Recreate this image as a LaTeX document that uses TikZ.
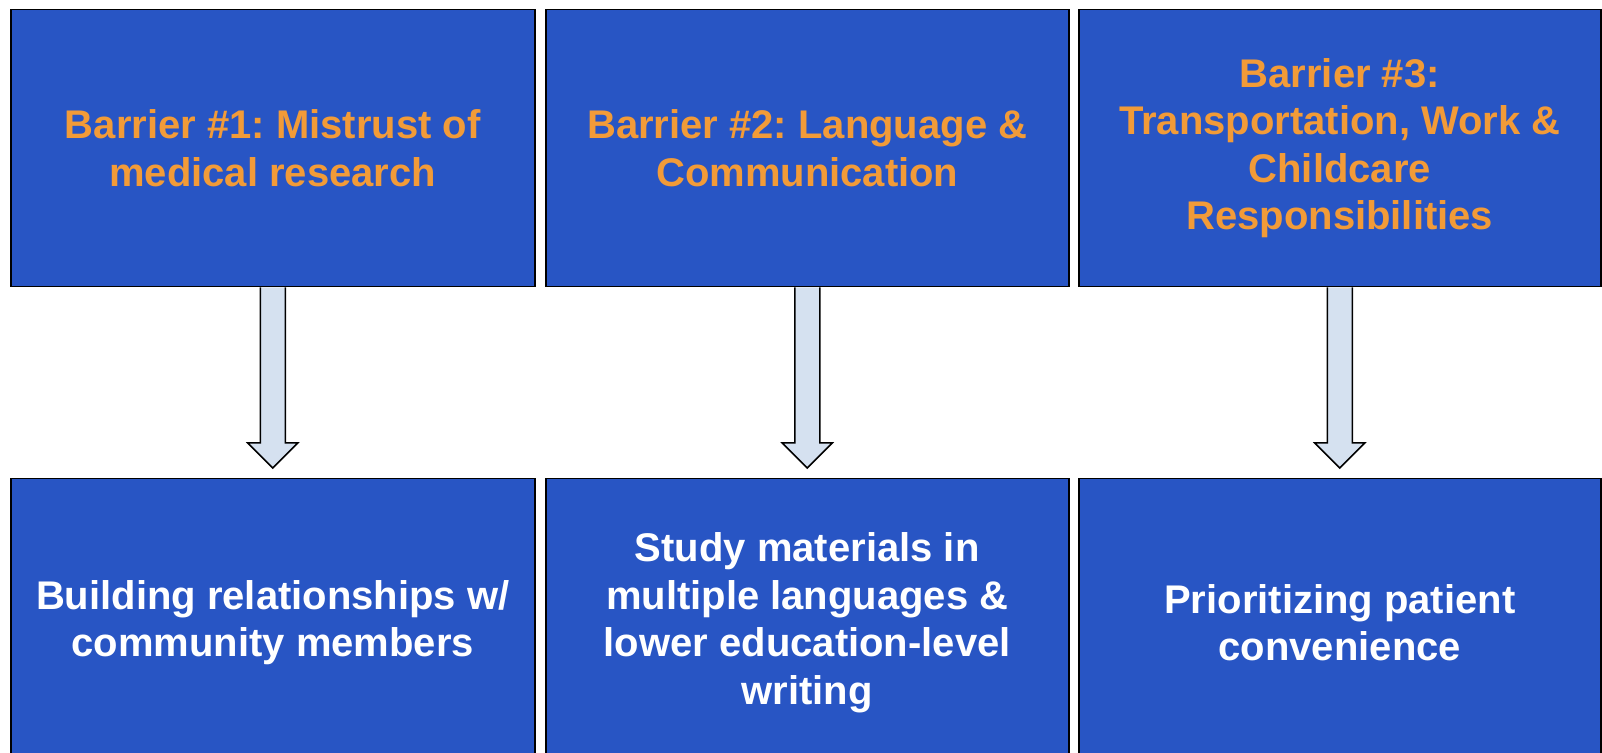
\documentclass[tikz,border=0pt]{standalone}
\usepackage{fontspec}
\setmainfont{Liberation Sans}
\usetikzlibrary{calc}
\frenchspacing
\definecolor{boxblue}{RGB}{40,85,196}
\definecolor{barorange}{RGB}{242,155,56}
\definecolor{arrowfill}{RGB}{213,225,240}
\tikzset{
  box/.style={draw=black, line width=1.5pt, fill=boxblue, inner sep=0pt,
    minimum height=277pt, anchor=north west, align=center,
    font=\fontsize{40}{47.4}\selectfont\bfseries\frenchspacing},
  topbox/.style={box, text=barorange},
  botbox/.style={box, text=white, minimum height=288pt},
  fatarrow/.style={draw=black, line width=1.5pt, fill=arrowfill, line join=miter}
}
\begin{document}
\begin{tikzpicture}[x=1pt,y=1pt]
\useasboundingbox (0,0) rectangle (1602,752);
\clip (0,0) rectangle (1602,752);
\fill[white] (0,0) rectangle (1602,752);
% top boxes
\node[topbox, minimum width=524pt] (t1) at (10,743) {Barrier \#1: Mistrust of\\medical research};
\node[topbox, minimum width=523pt] (t2) at (545,743) {Barrier \#2: Language \&\\Communication};
\node[topbox, minimum width=522pt] (t3) at (1078,743) {Barrier \#3:\\Transportation, Work \&\\Childcare\\Responsibilities};
% bottom boxes
\node[botbox, minimum width=524pt] (b1) at (10,274) {Building relationships w/\\community members};
\node[botbox, minimum width=523pt] (b2) at (545,274) {Study materials in\\multiple languages \&\\lower education-level\\writing};
\node[botbox, minimum width=522pt] (b3) at (1078,274) {Prioritizing patient\\convenience};
% arrows
\foreach \i in {1,2,3}{
  \draw[fatarrow] ($(t\i.south)+(-12.5,0)$) -- ($(b\i.north)+(-12.5,35)$)
    -- ($(b\i.north)+(-25,35)$) -- ($(b\i.north)+(0,10)$)
    -- ($(b\i.north)+(25,35)$) -- ($(b\i.north)+(12.5,35)$)
    -- ($(t\i.south)+(12.5,0)$);
}
\end{tikzpicture}
\end{document}
